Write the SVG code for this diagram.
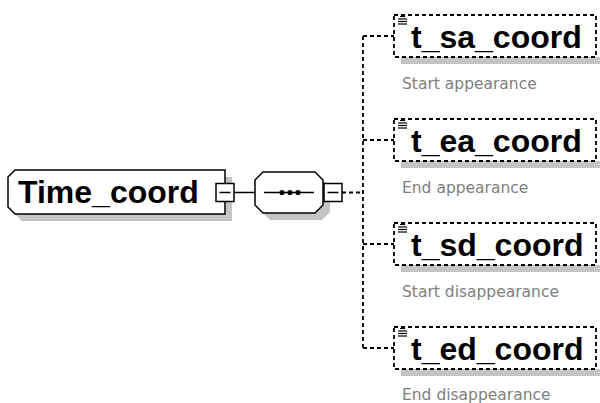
<svg xmlns="http://www.w3.org/2000/svg" width="600" height="403" viewBox="0 0 600 403">
  <style>
    .shadow { fill: #c4c4c4; stroke: none; }
    .solid { fill: #ffffff; stroke: #000000; stroke-width: 1.5; }
    .dashed { fill: #ffffff; stroke: #000000; stroke-width: 1.8; stroke-dasharray: 4 3; }
    .conn { fill: none; stroke: #000000; stroke-width: 1.5; }
    .dconn { fill: none; stroke: #000000; stroke-width: 1.8; stroke-dasharray: 4 3; }
    .name { font-family: "Liberation Sans", Arial, sans-serif; font-weight: bold; font-size: 32px; fill: #000000; }
    .desc { font-family: "DejaVu Sans", Verdana, sans-serif; font-size: 15.5px; fill: #808080; }
    .icon { stroke: #000000; stroke-width: 1.2; }
  </style>
  <defs>
    <g id="elicon">
      <line class="icon" x1="400" y1="16.5" x2="405" y2="16.5"/>
      <line class="icon" x1="398" y1="19" x2="407" y2="19"/>
      <line class="icon" x1="398" y1="21.5" x2="407" y2="21.5"/>
      <line class="icon" x1="398" y1="24" x2="407" y2="24"/>
    </g>
  </defs>

  <g id="connectors">
    <line class="conn" x1="234" y1="192.5" x2="255" y2="192.5"/>
    <line class="dconn" x1="342" y1="192.5" x2="363" y2="192.5"/>
    <line class="dconn" x1="363" y1="36" x2="363" y2="348"/>
    <line class="dconn" x1="363" y1="36" x2="394" y2="36"/>
    <line class="dconn" x1="363" y1="140" x2="394" y2="140"/>
    <line class="dconn" x1="363" y1="244" x2="394" y2="244"/>
    <line class="dconn" x1="363" y1="348" x2="394" y2="348"/>
  </g>

  <g id="Time_coord">
    <path class="shadow" d="M22,177 H232 V221 H22 L15,214 V184 Z"/>
    <path class="solid" d="M15,170 H225 V214 H15 L8,207 V177 Z"/>
    <text class="name" x="18" y="203">Time_coord</text>
    <rect class="solid" x="216" y="183.5" width="18" height="18"/>
    <line class="conn" x1="219.5" y1="192.5" x2="230.5" y2="192.5"/>
  </g>

  <g id="sequence">
    <path class="shadow" d="M270,179 H322 L330,187 V212 L322,220 H270 L262,212 V187 Z"/>
    <path class="solid" d="M263,172 H315 L323,180 V205 L315,213 H263 L255,205 V180 Z"/>
    <line class="conn" x1="264" y1="192.5" x2="314" y2="192.5"/>
    <circle cx="282" cy="192.5" r="2.6" fill="#000"/>
    <circle cx="290" cy="192.5" r="2.6" fill="#000"/>
    <circle cx="298" cy="192.5" r="2.6" fill="#000"/>
    <rect class="solid" x="324" y="183.5" width="18" height="18"/>
    <line class="conn" x1="327.5" y1="192.5" x2="338.5" y2="192.5"/>
  </g>

  <g id="t_sa_coord">
    <rect class="shadow" x="401" y="57" width="202" height="7"/>
    <rect class="dashed" x="394" y="15" width="202" height="42"/>
    <use href="#elicon"/>
    <text class="name" x="411" y="48">t_sa_coord</text>
    <text class="desc" x="402" y="89">Start appearance</text>
  </g>

  <g id="t_ea_coord">
    <rect class="shadow" x="401" y="161" width="202" height="7"/>
    <rect class="dashed" x="394" y="119" width="202" height="42"/>
    <use href="#elicon" transform="translate(0,104)"/>
    <text class="name" x="411" y="152">t_ea_coord</text>
    <text class="desc" x="402" y="193">End appearance</text>
  </g>

  <g id="t_sd_coord">
    <rect class="shadow" x="401" y="265" width="202" height="7"/>
    <rect class="dashed" x="394" y="223" width="202" height="42"/>
    <use href="#elicon" transform="translate(0,208)"/>
    <text class="name" x="411" y="256">t_sd_coord</text>
    <text class="desc" x="402" y="297">Start disappearance</text>
  </g>

  <g id="t_ed_coord">
    <rect class="shadow" x="401" y="369" width="202" height="7"/>
    <rect class="dashed" x="394" y="327" width="202" height="42"/>
    <use href="#elicon" transform="translate(0,312)"/>
    <text class="name" x="411" y="360">t_ed_coord</text>
    <text class="desc" x="402" y="400">End disappearance</text>
  </g>
</svg>
